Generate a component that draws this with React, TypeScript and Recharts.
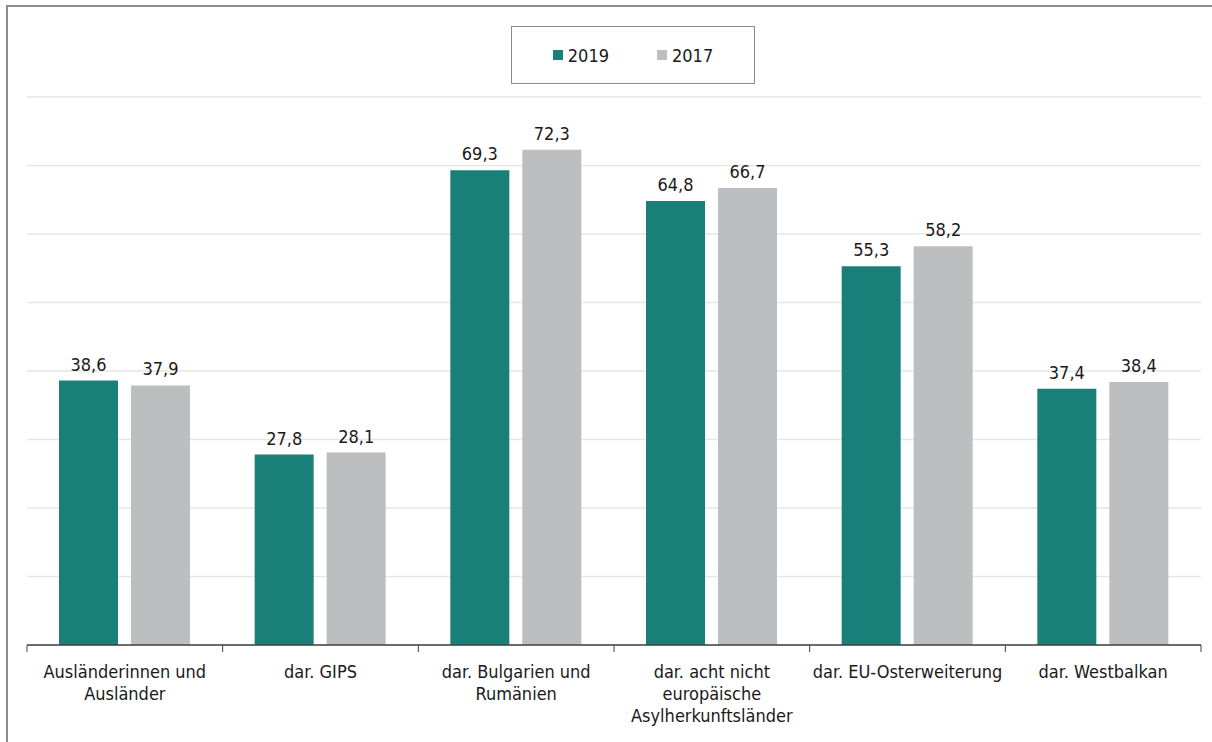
import { BarChart, Bar, XAxis, YAxis, CartesianGrid, LabelList } from "recharts"

// categories (line breaks as in the original axis labels)
const categories = [
  "Ausländerinnen und\nAusländer",
  "dar. GIPS",
  "dar. Bulgarien und\nRumänien",
  "dar. acht nicht\neuropäische\nAsylherkunftsländer",
  "dar. EU-Osterweiterung",
  "dar. Westbalkan",
]
const values2019 = [38.6, 27.8, 69.3, 64.8, 55.3, 37.4]
const values2017 = [37.9, 28.1, 72.3, 66.7, 58.2, 38.4]
const yTicks = [0, 10, 20, 30, 40, 50, 60, 70, 80]

const TEAL = "#1a7f78"
const GREY = "#bdbec0"
const FONT = "'DejaVu Sans Condensed', 'DejaVu Sans', sans-serif"
const FS = 18

const data = categories.map((name, i) => ({
  name,
  y2019: values2019[i],
  y2017: values2017[i],
}))

const fmt = (v: any) => Number(v).toFixed(1).replace(".", ",")

function CategoryTick(props: any) {
  const { x, y, payload, index } = props
  const half = payload.offset || 0
  const lines = String(payload.value).split("\n")
  return (
    <g>
      <line x1={x - half} y1={y - 8} x2={x - half} y2={y - 1} stroke="#404040" />
      {index === categories.length - 1 && (
        <line x1={x + half} y1={y - 8} x2={x + half} y2={y - 1} stroke="#404040" />
      )}
      <text x={x} y={y + 25} textAnchor="middle" fontSize={FS} fill="#1a1a1a" fontFamily={FONT}>
        {lines.map((l, k) => (
          <tspan key={k} x={x} dy={k === 0 ? 0 : 22}>
            {l}
          </tspan>
        ))}
      </text>
    </g>
  )
}

function LegendBox() {
  const items = [
    { label: "2019", color: TEAL },
    { label: "2017", color: GREY },
  ]
  return (
    <div
      style={{
        position: "absolute",
        left: 511,
        top: 26,
        width: 244,
        height: 58,
        border: "1px solid #8c8c8c",
        boxSizing: "border-box",
        display: "flex",
        alignItems: "center",
        justifyContent: "center",
        gap: 48,
        fontFamily: FONT,
        fontSize: FS,
        color: "#1a1a1a",
        background: "#fff",
      }}
    >
      {items.map((it) => (
        <span key={it.label} style={{ display: "flex", alignItems: "center" }}>
          <span style={{ width: 10, height: 10, background: it.color, marginRight: 5 }} />
          {it.label}
        </span>
      ))}
    </div>
  )
}

export default function App() {
  return (
    <div style={{ position: "absolute", left: 0, top: 0, width: 1212, height: 742, background: "#fff" }}>
      <div
        style={{
          position: "absolute",
          left: 6,
          top: 5,
          width: 1206,
          height: 737,
          borderLeft: "2px solid #8c8c8c",
          borderTop: "2px solid #8c8c8c",
          boxSizing: "border-box",
        }}
      />
      <BarChart
        width={1212}
        height={742}
        data={data}
        margin={{ top: 97, right: 11, bottom: 0, left: 27 }}
        barGap={13}
        barCategoryGap={32}
        style={{ position: "absolute", left: 0, top: 0 }}
      >
        <CartesianGrid vertical={false} stroke="#e6e6e6" strokeWidth={1.5} />
        <YAxis hide domain={[0, 80]} ticks={yTicks} />
        <XAxis
          dataKey="name"
          axisLine={{ stroke: "#404040", strokeWidth: 1.5 }}
          tickLine={false}
          interval={0}
          tick={<CategoryTick />}
          height={97}
        />
        <Bar dataKey="y2019" name="2019" fill={TEAL} isAnimationActive={false}>
          <LabelList dataKey="y2019" position="top" offset={10} formatter={fmt} fontSize={FS} fill="#1a1a1a" fontFamily={FONT} />
        </Bar>
        <Bar dataKey="y2017" name="2017" fill={GREY} isAnimationActive={false}>
          <LabelList dataKey="y2017" position="top" offset={10} formatter={fmt} fontSize={FS} fill="#1a1a1a" fontFamily={FONT} />
        </Bar>
      </BarChart>
      <LegendBox />
    </div>
  )
}
